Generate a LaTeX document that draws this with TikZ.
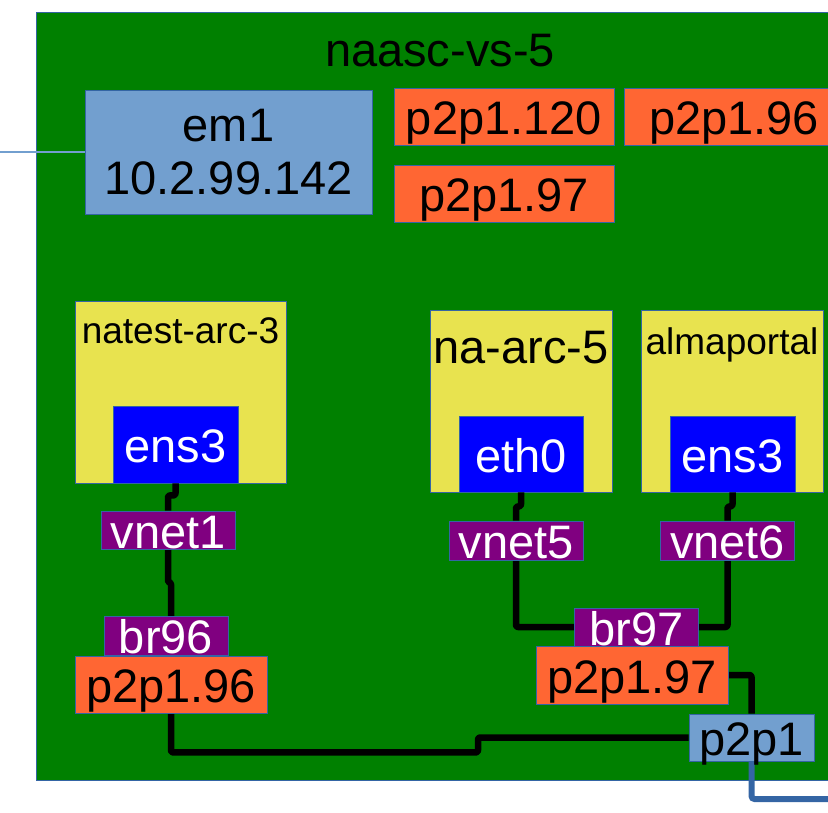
\documentclass[tikz,border=0pt]{standalone}
\usepackage{fontspec}
\setmainfont{Liberation Sans}
\usepackage{tikz}

\definecolor{hostgreen}{HTML}{008000}
\definecolor{nicblue}{HTML}{729FCF}
\definecolor{edgeblue}{HTML}{3465A4}
\definecolor{vlanorange}{HTML}{FF6633}
\definecolor{vmyellow}{HTML}{E8E34F}
\definecolor{tappurple}{HTML}{800080}
\definecolor{vifblue}{HTML}{0000FF}

\pgfdeclarelayer{back}
\pgfdeclarelayer{wires}
\pgfsetlayers{back,wires,main}

\begin{document}
\begin{tikzpicture}[x=1pt, y=-1pt,
	card/.style={draw=edgeblue, line width=0.8pt, inner sep=0pt, font=\fontsize{47}{53}\selectfont},
	box/.style={card, text height=36pt, text depth=0pt},
	vlan/.style={box, fill=vlanorange},
	vm/.style={draw=edgeblue, line width=0.8pt, fill=vmyellow, inner sep=0pt},
	vif/.style={box, fill=vifblue, text=white},
	tap/.style={box, fill=tappurple, text=white},
	wire/.style={black, line width=6.5pt, rounded corners=2pt, line join=round},
	uplink/.style={edgeblue, line width=6pt, rounded corners=3pt}]
	\useasboundingbox (0,0) rectangle (828,813);
	\clip (0,0) rectangle (828,813);
	\begin{pgfonlayer}{back}
		\node[draw=edgeblue, line width=1pt, fill=hostgreen, inner sep=0pt, minimum width=814pt, minimum height=767pt] (host) at (443,396.5) {};
	\end{pgfonlayer}
	\node[anchor=base, font=\fontsize{47}{53}\selectfont] (hostname) at (440,67) {naasc-vs-5};
	\node[card, fill=nicblue, align=center, minimum width=287pt, minimum height=124pt] (em1) at (228.5,152) {em1\\10.2.99.142};
	\foreach \name/\x/\y/\txt in {v120/504/116.5/p2p1.120, v96/734/116.5/p2p1.96, v97/504/193.5/p2p1.97} {
		\node[vlan, minimum width=220pt, minimum height=57pt] (\name) at (\x,\y) {\txt};
	}

	\node[vm, minimum width=211pt, minimum height=182pt] (natest) at (180.5,392) {};
	\node[anchor=base, font=\fontsize{37}{42}\selectfont] (natestname) at (180.5,344) {natest-arc-3};
	\node[vm, minimum width=182pt, minimum height=182pt] (naarc) at (521,401) {};
	\node[anchor=base, font=\fontsize{47}{53}\selectfont] (naarcname) at (521,363) {na-arc-5};
	\node[vm, minimum width=182pt, minimum height=182pt] (alma) at (732,401) {};
	\node[anchor=base, font=\fontsize{37}{42}\selectfont] (almaname) at (732,354) {almaportal};

	\node[vif, minimum width=125pt, minimum height=77pt] (ensA) at (175.5,444.5) {ens3};
	\node[vif, minimum width=124pt, minimum height=76pt] (ethB) at (521,454) {eth0};
	\node[vif, minimum width=125pt, minimum height=76pt] (ensC) at (732.5,454) {ens3};

	\node[tap, minimum width=134pt, minimum height=38pt] (vnetA) at (168,530) {vnet1};
	\node[tap, minimum width=134pt, minimum height=39pt] (vnetB) at (516,540.5) {vnet5};
	\node[tap, minimum width=134pt, minimum height=39pt] (vnetC) at (727.5,540.5) {vnet6};
	\node[tap, minimum width=124pt, minimum height=39pt] (brA) at (166,635.5) {br96};
	\node[tap, minimum width=124pt, minimum height=38pt] (brB) at (636.5,627) {br97};
	\node[vlan, minimum width=192pt, minimum height=57pt] (pA) at (171,684.5) {p2p1.96};
	\node[vlan, minimum width=192pt, minimum height=58pt] (pB) at (632,675) {p2p1.97};
	\node[box, fill=nicblue, minimum width=125pt, minimum height=47pt] (p2p1) at (751.5,737.5) {p2p1};

	\coordinate (lanend) at (0,152);
	\coordinate (wan) at (850,799);
	\foreach \vif/\tap/\drop in {ensA/vnetA/12, ethB/vnetB/14, ensC/vnetC/14} {
		\draw[wire] (\vif.south) -- ++(0,\drop) -| (\tap.north);
	}
	\begin{pgfonlayer}{wires}
		\draw[wire] (vnetA.south) -- ++(0,33) -| (pA.south) |- ++(307,39) |- (p2p1.west);
		\draw[wire] (vnetB.south) |- (brB.west);
		\draw[wire] (brB.east) -| (vnetC.south);
		\draw[wire] (pB.east) -| (p2p1.north);
		\draw[uplink] (p2p1.south) |- (wan);
		\draw[nicblue, line width=1.5pt] (lanend) -- (em1.west);
	\end{pgfonlayer}
\end{tikzpicture}
\end{document}
